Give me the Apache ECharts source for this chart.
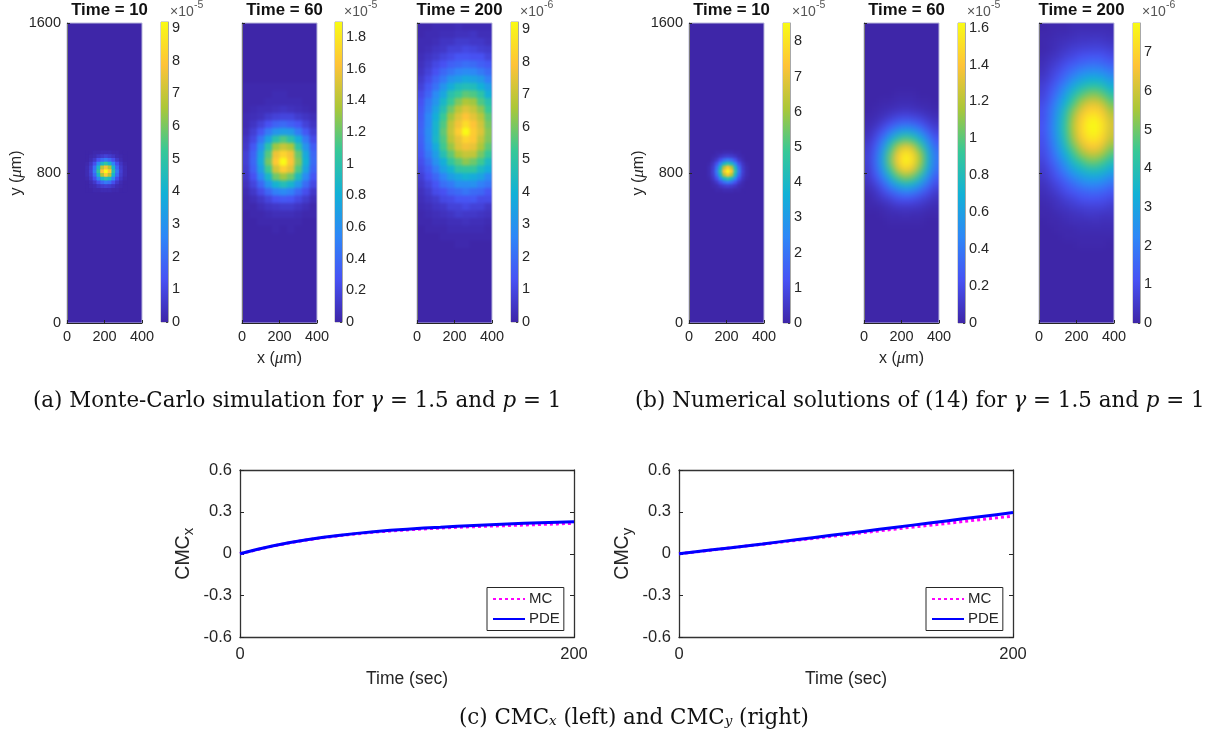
<!DOCTYPE html>
<html><head><meta charset="utf-8">
<style>
html,body{margin:0;padding:0;background:#fff;width:1213px;height:735px;overflow:hidden}
#main{position:absolute;left:0;top:0;width:1213px;height:735px;z-index:5}
.panel{position:absolute;overflow:hidden;background:#3E26A8}
.inner{position:absolute;background:#3E26A8}
</style>
<script src="https://cdn.jsdelivr.net/npm/echarts@6/dist/echarts.min.js"></script>
</head><body>
<div id="heat"></div><div id="main"></div>
<script>
// ---- values: percent of each panel's colour-bar maximum ----
const mcT10 = [ // x 107..307, y 910..710, cell 20
[0,0,1,1,2,2,2,1,1,0,0],
[0,1,2,5,7,9,7,5,2,1,0],
[0,2,6,14,21,25,20,13,6,2,0],
[1,5,13,30,47,55,45,28,13,5,1],
[2,7,22,47,74,84,72,46,20,7,2],
[2,8,25,55,86,100,87,53,25,8,2],
[2,7,20,46,72,87,73,45,21,7,2],
[1,5,13,28,46,53,47,29,12,5,1],
[0,2,6,13,20,25,22,13,6,2,0],
[0,1,2,5,7,8,7,5,2,1,0],
[0,0,1,1,2,2,2,1,1,0,0]];
const pdeT10 = [
[0,0,1,1,2,2,2,1,1,0,0],
[0,1,2,5,7,8,7,5,2,1,0],
[0,2,6,13,21,25,21,13,6,2,0],
[1,5,13,29,46,54,46,29,13,5,1],
[2,7,21,46,73,86,73,46,21,7,2],
[2,8,25,54,86,100,86,54,25,8,2],
[2,7,21,46,73,86,73,46,21,7,2],
[1,5,13,29,46,54,46,29,13,5,1],
[0,2,6,13,21,25,21,13,6,2,0],
[0,1,2,5,7,8,7,5,2,1,0],
[0,0,1,1,2,2,2,1,1,0,0]];
const mcT60 = [ // x 20..380, y 1260..500, cell 40
[1,1,1,1,1,1,1,1,1,1],
[1,1,1,1,2,2,1,1,1,1],
[1,1,1,2,2,2,2,2,1,1],
[1,2,3,3,4,5,4,3,2,1],
[2,3,4,7,9,10,10,7,5,3],
[2,5,9,14,19,21,18,15,9,5],
[3,8,15,25,33,36,35,25,16,8],
[5,11,24,38,53,60,53,41,25,12],
[6,16,32,53,70,76,72,53,33,17],
[8,19,38,61,83,90,84,63,40,20],
[8,20,40,65,87,100,86,66,43,21],
[7,18,36,58,78,88,81,60,38,19],
[6,14,29,46,64,70,64,48,30,15],
[4,10,20,33,44,50,45,34,21,11],
[2,6,12,20,27,30,27,20,13,6],
[1,3,6,10,14,16,15,11,7,3],
[1,1,3,5,6,7,7,5,3,1],
[0,1,1,2,3,3,3,2,1,1],
[0,0,1,1,1,1,1,1,0,0],
[0,0,0,0,1,0,1,0,0,0]];
const pdeT60 = [
[0,0,0,0,0,0,0,0,0,0],
[0,0,0,0,1,1,1,0,0,0],
[0,0,1,1,2,2,2,1,1,0],
[0,1,2,3,4,5,4,3,2,1],
[1,2,4,7,10,11,10,8,5,3],
[2,4,9,14,20,22,21,16,10,6],
[3,8,15,26,35,40,37,29,18,10],
[5,12,24,40,54,61,57,44,28,15],
[7,16,32,54,73,83,77,59,38,20],
[8,19,38,63,85,97,90,70,45,24],
[8,20,39,65,87,99,92,71,46,24],
[7,18,35,58,78,89,82,64,41,22],
[6,14,27,45,61,69,64,50,32,17],
[4,9,18,30,41,47,44,34,22,12],
[2,5,11,18,24,28,26,20,13,7],
[1,3,6,9,13,14,13,10,7,4],
[1,1,2,4,6,6,6,5,3,2],
[0,0,1,2,2,3,2,2,1,1],
[0,0,0,1,1,1,1,1,0,0],
[0,0,0,0,0,0,0,0,0,0]];
const mcT200 = [ // x 20..380, y 1580..380, cell 40
[1,1,2,2,2,3,2,2,2,2],
[1,2,2,3,3,4,4,5,3,3],
[2,2,3,5,5,7,7,6,6,4],
[2,3,5,6,9,9,11,10,8,7],
[3,5,7,10,12,15,15,14,14,10],
[4,7,11,14,18,20,22,21,18,16],
[5,9,14,20,24,28,30,29,25,21],
[7,12,19,25,33,36,40,38,35,27],
[9,16,23,33,41,48,50,49,43,36],
[12,19,30,39,52,57,62,60,54,42],
[14,24,33,46,57,66,72,70,60,52],
[16,26,38,51,64,74,80,76,68,57],
[17,29,42,57,70,80,86,81,74,62],
[18,29,45,60,75,84,92,86,78,65],
[19,31,45,62,76,88,100,88,80,67],
[18,30,46,60,74,82,90,87,76,66],
[17,28,41,58,69,80,84,82,72,62],
[15,25,36,51,62,72,76,75,65,56],
[13,21,32,42,55,62,68,64,58,47],
[11,17,26,37,44,54,55,55,47,41],
[8,14,20,28,36,40,44,41,38,30],
[6,10,15,22,25,31,31,32,27,24],
[4,7,12,14,19,21,24,21,20,15],
[3,5,7,11,12,15,15,16,12,12],
[2,3,5,6,9,9,11,9,9,6],
[1,2,3,4,5,7,6,6,5,4],
[1,1,2,2,3,3,4,3,3,2],
[0,1,1,1,2,2,2,2,2,1],
[0,0,0,1,1,1,1,1,1,1],
[0,0,0,0,0,1,1,0,0,0],
[0,0,0,0,0,0,0,0,0,0]];
const pdeT200 = [
[0,1,1,1,2,2,2,2,2,2],
[1,1,2,2,3,4,4,4,4,3],
[1,2,3,4,5,6,6,7,6,5],
[1,2,4,6,8,9,10,10,10,8],
[2,4,6,9,11,14,15,16,15,12],
[3,6,9,13,17,20,22,23,21,18],
[4,8,12,18,23,28,31,32,30,25],
[6,10,16,23,31,37,42,43,40,34],
[8,13,21,30,40,48,53,55,51,43],
[9,16,25,37,49,59,65,67,62,53],
[11,19,30,43,57,69,77,79,73,62],
[13,22,34,49,65,78,87,89,83,70],
[13,23,37,53,70,85,94,96,89,76],
[14,24,38,55,73,88,98,100,93,79],
[14,24,38,55,72,88,97,99,92,78],
[13,23,36,52,69,84,93,95,88,75],
[12,21,33,48,63,76,85,87,80,68],
[11,18,29,42,55,67,74,76,70,60],
[9,16,24,35,47,56,63,64,59,50],
[7,12,20,28,38,45,50,51,48,41],
[6,10,15,22,29,35,39,40,37,31],
[4,7,11,16,21,26,29,29,27,23],
[3,5,8,12,15,18,20,21,19,16],
[2,3,5,8,10,13,14,14,13,11],
[1,2,4,5,7,8,9,9,9,7],
[1,1,2,3,4,5,6,6,5,5],
[0,1,1,2,3,3,3,4,3,3],
[0,0,1,1,1,2,2,2,2,2],
[0,0,0,1,1,1,1,1,1,1],
[0,0,0,0,0,1,1,1,1,0],
[0,0,0,0,0,0,0,0,0,0]];

const timeLabels = ['Time = 10','Time = 60','Time = 200','Time = 10','Time = 60','Time = 200'];
const barMax  = [9.18,1.896,9.23,8.52,1.625,7.76];
const barTicks = [
 [0,1,2,3,4,5,6,7,8,9],
 [0,0.2,0.4,0.6,0.8,1,1.2,1.4,1.6,1.8],
 [0,1,2,3,4,5,6,7,8,9],
 [0,1,2,3,4,5,6,7,8],
 [0,0.2,0.4,0.6,0.8,1,1.2,1.4,1.6],
 [0,1,2,3,4,5,6,7]];
const barExp = ['-5','-5','-6','-5','-5','-6'];

const times = [0,10,20,30,40,50,60,70,80,90,100,110,120,130,140,150,160,170,180,190,200];
const cmcxMC  = [0,0.029,0.056,0.079,0.099,0.116,0.13,0.143,0.154,0.163,0.171,0.178,0.184,0.189,0.194,0.198,0.202,0.206,0.21,0.214,0.218];
const cmcxPDE = [0,0.03,0.057,0.08,0.1,0.118,0.133,0.146,0.158,0.168,0.176,0.184,0.19,0.197,0.203,0.208,0.213,0.218,0.222,0.226,0.23];
const cmcyMC  = [0,0.013,0.027,0.041,0.055,0.068,0.082,0.096,0.109,0.123,0.137,0.151,0.164,0.178,0.191,0.204,0.217,0.231,0.244,0.257,0.27];
const cmcyPDE = [0,0.014,0.028,0.042,0.056,0.07,0.085,0.1,0.115,0.13,0.145,0.16,0.175,0.19,0.205,0.22,0.235,0.25,0.265,0.28,0.295];

const parula = ['#3E26A8','#4752F4','#2E87F7','#12B1D6','#37C897','#ABC739','#FEC338','#F9FB15'];

// ---- layout ----
const panelX = [67,242,417,689,864,1039], panelY = 23, panelW = 75, panelH = 300;
const barX = [161,335,511,783,958,1133], barTop = [22,22,22,23,23,23], barW = 7;
const sansFont = '"Liberation Sans",Arial,sans-serif';
const ink = '#262626';

// ---- heat panels (each softened a little, the source image is resampled) ----
const panelSpec = [
 {grid:mcT10,  x0:107,y0:910,cell:20,blur:0.7},
 {grid:mcT60,  x0:20, y0:1260,cell:40,blur:1.4},
 {grid:mcT200, x0:20, y0:1580,cell:40,blur:1.4},
 {grid:pdeT10, x0:107,y0:910,cell:20,blur:1.3},
 {grid:pdeT60, x0:20, y0:1260,cell:40,blur:3.5},
 {grid:pdeT200,x0:20, y0:1580,cell:40,blur:3.5}];
const PAD = 14;
panelSpec.forEach((s,i)=>{
  const outer=document.createElement('div');outer.className='panel';
  outer.style.cssText=`left:${panelX[i]}px;top:${panelY}px;width:${panelW}px;height:${panelH}px`;
  const inner=document.createElement('div');inner.className='inner';
  inner.style.cssText=`left:${-PAD}px;top:${-PAD}px;width:${panelW+2*PAD}px;height:${panelH+2*PAD}px;filter:blur(${s.blur}px)`;
  outer.appendChild(inner);document.getElementById('heat').appendChild(outer);
  const data=[];
  s.grid.forEach((row,r)=>row.forEach((v,c)=>data.push([s.x0+c*s.cell,s.y0-r*s.cell,v*barMax[i]/100])));
  const ch=echarts.init(inner,null,{renderer:'canvas',width:panelW+2*PAD,height:panelH+2*PAD});
  ch.setOption({animation:false,
    grid:{left:PAD,top:PAD,width:panelW,height:panelH,show:false},
    xAxis:{type:'value',min:0,max:400,show:false},
    yAxis:{type:'value',min:0,max:1600,show:false},
    visualMap:{show:false,min:0,max:barMax[i],dimension:2,inRange:{color:parula}},
    series:[{type:'custom',clip:false,encode:{x:0,y:1},data,renderItem(p,api){
      const cx=api.value(0),cy=api.value(1),sz=api.size([s.cell,s.cell]);
      const tl=api.coord([cx-s.cell/2,cy+s.cell/2]);
      let x=tl[0],y=tl[1],w=sz[0]+0.6,h=sz[1]+0.6;
      if(cx-s.cell/2<=0){x-=PAD;w+=PAD}
      if(cx+s.cell/2>=400){w+=PAD}
      if(cy+s.cell/2>=1600){y-=PAD;h+=PAD}
      return {type:'rect',shape:{x,y,width:w,height:h},style:{fill:api.visual('color')}};
    }}]});
});

// ---- main overlay: axes, colour bars, lines ----
const grids=[],xAxes=[],yAxes=[],series=[],titles=[],graphics=[];
function axisBase(){return{axisLine:{show:true,onZero:false,lineStyle:{color:ink,width:1}},axisTick:{show:true,inside:true,length:3,lineStyle:{color:ink}},splitLine:{show:false},axisLabel:{color:ink,fontFamily:sansFont,fontSize:14.5,margin:6,formatter:v=>String(v)}}}
const muRich={i:{fontFamily:'"Liberation Serif",serif',fontStyle:'italic',fontSize:17,color:ink}};
panelX.forEach((px,i)=>{
  const g=grids.length;
  grids.push({left:px,top:panelY,width:panelW,height:panelH,show:true,borderColor:'#b9b8dc',borderWidth:1,backgroundColor:'transparent'});
  const xa=Object.assign(axisBase(),{type:'value',gridIndex:g,min:0,max:400,interval:200});
  const ya=Object.assign(axisBase(),{type:'value',gridIndex:g,min:0,max:1600,interval:800});
  ya.axisLine.lineStyle={color:'#7c7c7c',width:1};
  if(i===1||i===4){xa.name='x ({i|μ}m)';xa.nameLocation='middle';xa.nameGap=27;xa.nameTextStyle={color:ink,fontFamily:sansFont,fontSize:16,rich:muRich};}
  if(i===0||i===3){ya.name='y ({i|μ}m)';ya.nameLocation='middle';ya.nameGap=37;ya.nameTextStyle={color:ink,fontFamily:sansFont,fontSize:16,rich:muRich};}
  else ya.axisLabel.show=false;
  xAxes.push(xa);yAxes.push(ya);
  titles.push({text:timeLabels[i],left:px+panelW/2,top:-3,textAlign:'center',textStyle:{fontFamily:sansFont,fontWeight:'bold',fontSize:16.8,color:'#111'}});
});
barX.forEach((bx,i)=>{
  const g=grids.length;
  grids.push({left:bx,top:barTop[i],width:barW,height:panelH,show:true,borderColor:'#a8a8a8',borderWidth:1,backgroundColor:'transparent'});
  xAxes.push({type:'value',gridIndex:g,min:0,max:1,show:false});
  const ya=axisBase();
  const tv=barTicks[i];
  ya.axisLine.lineStyle={color:'#a8a8a8',width:1};
  ya.axisLabel.customValues=tv;ya.axisLabel.margin=4;ya.axisLabel.hideOverlap=false;
  ya.axisTick.customValues=tv;ya.axisTick.length=2;ya.axisTick.lineStyle={color:'#444'};
  yAxes.push(Object.assign(ya,{type:'value',gridIndex:g,position:'right',min:0,max:barMax[i]}));
  const m=barMax[i];
  series.push({type:'custom',xAxisIndex:g,yAxisIndex:g,silent:true,data:[[0,m]],renderItem(p,api){
    const tl=api.coord([0,api.value(1)]),sz=api.size([1,api.value(1)]);
    return {type:'rect',shape:{x:tl[0],y:tl[1],width:sz[0],height:sz[1]},
      style:{fill:new echarts.graphic.LinearGradient(0,1,0,0,parula.map((c,k)=>({offset:k/(parula.length-1),color:c})))}};
  }});
  graphics.push({type:'text',left:bx+9,top:5,z:20,style:{text:'×10',fontFamily:sansFont,fontSize:14,fill:'#555'}});
  graphics.push({type:'text',left:bx+33,top:0,z:20,style:{text:barExp[i],fontFamily:sansFont,fontSize:10.5,fill:'#555'}});
});
function lineChart(left,width,yName,mc,pde,legLeft){
  const g=grids.length,gy={top:470,height:167.5};
  grids.push({left,width,top:gy.top,height:gy.height});
  const base=()=>{const a=axisBase();a.axisLine.lineStyle={color:'#333',width:1.3};a.axisLabel.fontSize=16.5;a.axisLabel.margin=8;a.axisTick.length=4;return a};
  const xa=Object.assign(base(),{type:'value',gridIndex:g,min:0,max:200,interval:200,name:'Time (sec)',nameLocation:'middle',nameGap:33,nameTextStyle:{color:ink,fontFamily:sansFont,fontSize:17.5}});
  const xb=Object.assign(base(),{type:'value',gridIndex:g,min:0,max:200,interval:200,position:'top'});xb.axisLabel.show=false;
  const ya=Object.assign(base(),{type:'value',gridIndex:g,min:-0.6,max:0.6,interval:0.3,name:'CMC{s|'+yName+'}',nameLocation:'middle',nameGap:44,
     nameTextStyle:{color:ink,fontFamily:sansFont,fontSize:19.5,rich:{s:{fontFamily:sansFont,fontSize:15,color:ink,padding:[10,0,0,0]}}}});
  ya.axisLabel.formatter=v=>v===0?'0':v.toFixed(1);
  const yb=Object.assign(base(),{type:'value',gridIndex:g,min:-0.6,max:0.6,interval:0.3,position:'right'});yb.axisLabel.show=false;
  const xi=xAxes.length,yi=yAxes.length;
  xAxes.push(xa,xb);yAxes.push(ya,yb);
  series.push({name:'MC',type:'line',xAxisIndex:xi,yAxisIndex:yi,showSymbol:false,symbol:'none',data:times.map((t,k)=>[t,mc[k]]),lineStyle:{color:'#ff00ff',width:3,type:[3,3]},itemStyle:{color:'#ff00ff'},z:3});
  series.push({name:'PDE',type:'line',xAxisIndex:xi,yAxisIndex:yi,showSymbol:false,symbol:'none',data:times.map((t,k)=>[t,pde[k]]),lineStyle:{color:'#0000ff',width:3},itemStyle:{color:'#0000ff'},z:4});
  return {data:['MC','PDE'],selectedMode:false,orient:'vertical',left:legLeft,top:587.5,width:78,padding:[4,4,4,5],itemGap:5,itemWidth:32,itemHeight:14,backgroundColor:'#fff',borderColor:ink,borderWidth:1,borderRadius:0,z:10,itemStyle:{opacity:0},
    textStyle:{color:ink,fontFamily:sansFont,fontSize:15,padding:[0,0,0,-1]}};
}
const legends=[lineChart(240,334,'x',cmcxMC,cmcxPDE,487),lineChart(679,334,'y',cmcyMC,cmcyPDE,926)];

const capFont='"DejaVu Serif",serif',capSize=21.4;
const capRich={i:{fontFamily:capFont,fontStyle:'italic',fontSize:capSize,color:'#111'},s:{fontFamily:capFont,fontStyle:'italic',fontSize:13.5,color:'#111',padding:[6,0,0,0]}};
function caption(x,y,t){graphics.push({type:'text',left:x,top:y,z:20,style:{text:t,fontFamily:capFont,fontSize:capSize,fill:'#111',rich:capRich}})}
caption(33,391,'(a) Monte-Carlo simulation for {i|γ} = 1.5 and {i|p} = 1');
caption(635,391,'(b) Numerical solutions of (14) for {i|γ} = 1.5 and {i|p} = 1');
caption(459,708,'(c) CMC{s|x} (left) and CMC{s|y} (right)');

const chart=echarts.init(document.getElementById('main'),null,{renderer:'canvas'});
chart.setOption({animation:false,backgroundColor:'transparent',title:titles,grid:grids,xAxis:xAxes,yAxis:yAxes,series,legend:legends,graphic:graphics});
</script>
</body></html>
